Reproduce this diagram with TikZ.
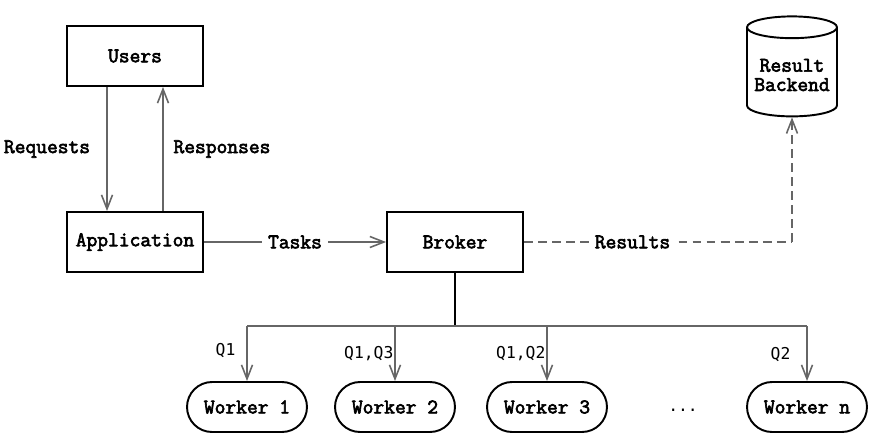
\documentclass[tikz,border=0pt]{standalone}
\usepackage{fontspec}
\newfontfamily\codefont{Latin Modern Mono}[FakeBold=3]
\newfontfamily\qfont{DejaVu Sans Mono}
\usetikzlibrary{shapes.geometric,arrows.meta}
\definecolor{wire}{HTML}{666666}
\tikzstyle{line} = [draw=wire, line width=0.9pt, -{Straight Barb[length=2.8mm,width=2.2mm]}]
\tikzstyle{process} = [rectangle, minimum width=2.72cm, minimum height=1.2cm, text centered, draw=black, line width=1.1pt, font=\codefont\fontsize{11.9}{12}\selectfont]
\tikzstyle{worker} = [rectangle, rounded corners=0.5cm, minimum width=2.4cm, minimum height=1cm, draw=black, line width=1.1pt, font=\codefont\fontsize{11.9}{12}\selectfont]
\tikzstyle{store} = [cylinder, shape border rotate=90, aspect=0.25, minimum width=1.8cm, minimum height=2cm, draw=black, line width=1.1pt, align=center, font=\codefont\fontsize{11.9}{11}\selectfont]
\tikzstyle{lbl} = [fill=white, text=black, font=\codefont\fontsize{11.9}{12}\selectfont]
\tikzstyle{qlbl} = [font=\qfont\fontsize{9.3}{11}\selectfont]

\begin{document}
\begin{tikzpicture}[x=0.02cm, y=-0.02cm]
				\useasboundingbox (0,0) rectangle (872,440);
				% Place nodes
				\node [process] (users) at (135,56) {Users};
				\node [process] (app) at (135,242) {Application};
				\node [process] (broker) at (455,242) {Broker};
				\node [store] (backend) at (792,75) {Result\\Backend};
				\node [worker] (w1) at (247,407) {Worker 1};
				\node [worker] (w2) at (395,407) {Worker 2};
				\node [worker] (w3) at (547,407) {Worker 3};
				\node [worker] (wn) at (807,407) {Worker n};
				\node [qlbl] (dots) at (683,410) {...};
				\coordinate (split) at (455,326);
				\coordinate (corner) at (792,242);
				% Draw edges
				\path [line] ([xshift=-0.56cm]users.south) -- node [lbl, fill=none, xshift=-1.2cm] {Requests} ([xshift=-0.56cm]app.north);
				\path [line] ([xshift=0.56cm]app.north) -- node [lbl, fill=none, xshift=1.18cm] {Responses} ([xshift=0.56cm]users.south);
				\path [line] (app.east) -- node [lbl] {Tasks} (broker.west);
				\draw [wire, line width=0.9pt, dashed, dash pattern=on 5pt off 3pt] (broker.east) -- node [lbl, pos=0.405] {Results} (corner);
				\path [line, dashed, dash pattern=on 5pt off 3pt] (corner) -- (backend.south);
				\draw [black, line width=1.2pt] (broker.south) -- (split);
				\draw [wire, line width=0.9pt] (w1.north |- split) -- (wn.north |- split);
				\path [line] (w1.north |- split) -- node [qlbl, pos=0.45, left=0.1cm] {Q1} (w1.north);
				\path [line] (w2.north |- split) -- node [qlbl, pos=0.5, left=-0.1cm] {Q1,Q3} (w2.north);
				\path [line] (w3.north |- split) -- node [qlbl, pos=0.5, left=-0.1cm] {Q1,Q2} (w3.north);
				\path [line] (wn.north |- split) -- node [qlbl, pos=0.52, left=0.2cm] {Q2} (wn.north);
\end{tikzpicture}
\end{document}
